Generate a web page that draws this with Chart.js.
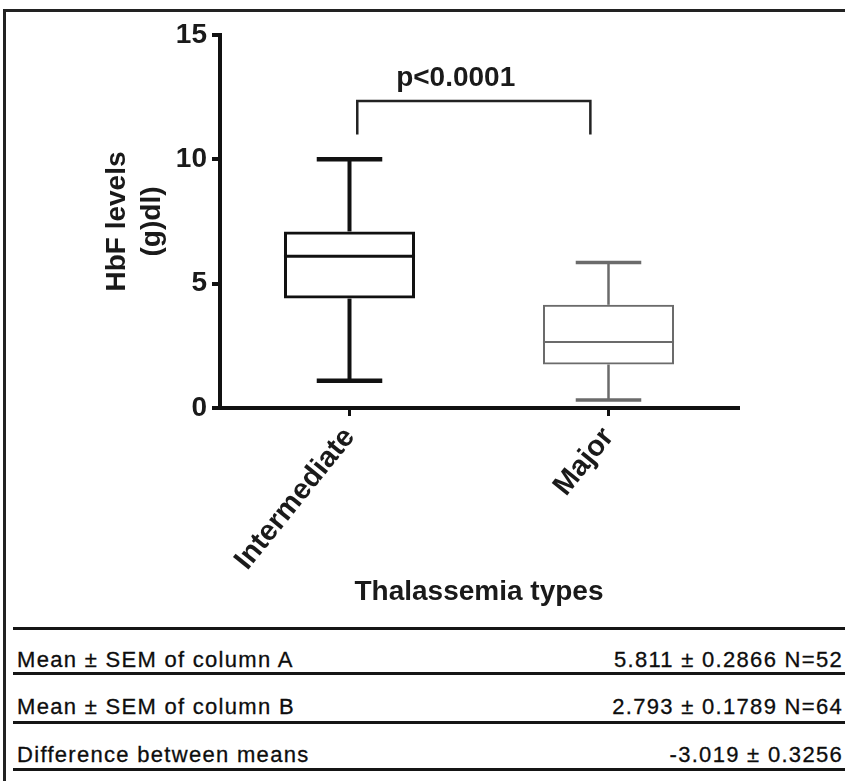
<!DOCTYPE html>
<html>
<head>
<meta charset="utf-8">
<script src="https://cdn.jsdelivr.net/npm/chart.js@4.4.1/dist/chart.umd.min.js"></script>
<style>
  html, body { margin: 0; padding: 0; background: #fff; overflow: hidden; }
  body { width: 845px; height: 781px; position: relative; }
  .frame { position: absolute; left: 3px; top: 9px; width: 842px; height: 772px;
           border-top: 3px solid #222; border-left: 3px solid #222; box-sizing: border-box; }
  #chart { position: absolute; left: 0; top: 0; }
  .rule { position: absolute; left: 13px; width: 832px; background: #151515; }
  .cell { position: absolute; font: 22px "Liberation Sans", Arial, sans-serif;
          line-height: 22px; letter-spacing: 1.3px; color: #0d0d0d; white-space: nowrap;
          -webkit-text-stroke: 0.3px #0d0d0d; }
</style>
</head>
<body>
<div class="frame"></div>
<canvas id="chart" width="840" height="620"></canvas>
<div id="stats"></div>
<script>
// Datos
const groups = ["Intermediate", "Major"];
const whiskerMin = [1.1, 0.32];
const q1 = [4.4, 1.75];
const median = [6.1, 2.65];
const q3 = [7.1, 4.15];
const whiskerMax = [10.0, 5.85];
const yTicks = [0, 5, 10, 15];

const pValueText = "p<0.0001";
const bracketLevels = [11.0, 12.35];
const bracketEnds = [0.03, 0.93];
const pTextAt = [0.41, 13.27];

const statLabels = ["Mean \u00b1 SEM of column A", "Mean \u00b1 SEM of column B", "Difference between means"];
const statValues = ["5.811 \u00b1 0.2866 N=52", "2.793 \u00b1 0.1789 N=64", "-3.019 \u00b1 0.3256"];

// Estilos
const FONT = "'Liberation Sans', Arial, sans-serif";
const INK = "#1a1a1a";
const boxStyles = [
  { color: "#111", box: 3, whisker: 4, cap: 4.5, median: 3 },
  { color: "#6b6b6b", box: 2, whisker: 2.5, cap: 3.5, median: 2 },
];

Chart.defaults.color = INK;
Chart.defaults.font.family = FONT;

// Bigotes, medianas y corchete
const boxExtras = {
  id: "boxExtras",
  afterDatasetsDraw(chart) {
    const { ctx, scales: { x, y } } = chart;
    const bars = chart.getDatasetMeta(0).data;
    const seg = (x1, y1, x2, y2) => {
      ctx.beginPath();
      ctx.moveTo(x1, y1);
      ctx.lineTo(x2, y2);
      ctx.stroke();
    };
    groups.forEach((g, i) => {
      const st = boxStyles[i];
      const cx = x.getPixelForValue(i);
      const half = bars[i].width / 2;
      ctx.save();
      ctx.strokeStyle = st.color;
      ctx.lineWidth = st.whisker;
      seg(cx, y.getPixelForValue(q3[i]), cx, y.getPixelForValue(whiskerMax[i]));
      seg(cx, y.getPixelForValue(q1[i]), cx, y.getPixelForValue(whiskerMin[i]));
      ctx.lineWidth = st.cap;
      seg(cx - half / 2, y.getPixelForValue(whiskerMax[i]), cx + half / 2, y.getPixelForValue(whiskerMax[i]));
      seg(cx - half / 2, y.getPixelForValue(whiskerMin[i]), cx + half / 2, y.getPixelForValue(whiskerMin[i]));
      ctx.lineWidth = st.median;
      seg(cx - half, y.getPixelForValue(median[i]), cx + half, y.getPixelForValue(median[i]));
      ctx.restore();
    });

    const xl = x.getPixelForValue(bracketEnds[0]);
    const xr = x.getPixelForValue(bracketEnds[1]);
    const yb = y.getPixelForValue(bracketLevels[0]);
    const yt = y.getPixelForValue(bracketLevels[1]);
    ctx.save();
    ctx.strokeStyle = "#222";
    ctx.lineWidth = 2.5;
    ctx.beginPath();
    ctx.moveTo(xl, yb);
    ctx.lineTo(xl, yt);
    ctx.lineTo(xr, yt);
    ctx.lineTo(xr, yb);
    ctx.stroke();
    ctx.fillStyle = INK;
    ctx.font = "bold 28px " + FONT;
    ctx.textAlign = "center";
    ctx.textBaseline = "middle";
    ctx.fillText(pValueText, x.getPixelForValue(pTextAt[0]), y.getPixelForValue(pTextAt[1]));
    ctx.restore();
  },
};

new Chart(document.getElementById("chart"), {
  type: "bar",
  data: {
    labels: groups,
    datasets: [{
      data: groups.map((g, i) => [q1[i], q3[i]]),
      backgroundColor: "rgba(255,255,255,0)",
      borderColor: boxStyles.map((s) => s.color),
      borderWidth: boxStyles.map((s) => s.box),
      borderSkipped: false,
      barPercentage: 0.506,
      categoryPercentage: 1,
    }],
  },
  options: {
    responsive: false,
    animation: false,
    layout: { padding: { left: 0, top: 35, right: 102, bottom: 0 } },
    plugins: { legend: { display: false }, tooltip: { enabled: false } },
    scales: {
      x: {
        offset: true,
        grid: { display: true, drawOnChartArea: false, offset: false, tickLength: 8, lineWidth: 3, color: "#111" },
        border: { display: true, width: 4, color: "#111" },
        ticks: { autoSkip: false, maxRotation: 51, minRotation: 51, padding: 5, font: { size: 29, weight: "bold" } },
        title: { display: true, text: "Thalassemia types", font: { size: 28, weight: "bold" }, padding: { top: 0, bottom: 11 } },
        afterFit: (scale) => { scale.height = 212; },
      },
      y: {
        min: 0,
        max: 15,
        afterBuildTicks: (scale) => { scale.ticks = yTicks.map((v) => ({ value: v })); },
        grid: { display: true, drawOnChartArea: false, tickLength: 8, lineWidth: 4, color: "#111" },
        border: { display: true, width: 4, color: "#111" },
        ticks: { padding: 5, font: { size: 28, weight: "bold" } },
        title: { display: true, text: ["HbF levels", "(g)dl)"], font: { size: 28, weight: "bold", lineHeight: 1.25 }, padding: { top: 100, bottom: 0 } },
        afterFit: (scale) => { scale.width = 220; },
      },
    },
  },
  plugins: [boxExtras],
});

// Tabla de estadisticas
const stats = document.getElementById("stats");
const ruleTops = [627, 672, 721, 768];
const ruleHeights = [3, 2.5, 2.5, 3];
const baselines = [668, 715, 763];
ruleTops.forEach((t, i) => {
  const r = document.createElement("div");
  r.className = "rule";
  r.style.top = t + "px";
  r.style.height = ruleHeights[i] + "px";
  stats.appendChild(r);
});
statLabels.forEach((label, i) => {
  const top = baselines[i] - 18.6;
  const l = document.createElement("div");
  l.className = "cell";
  l.style.left = "17px";
  l.style.top = top + "px";
  l.textContent = label;
  stats.appendChild(l);
  const v = document.createElement("div");
  v.className = "cell";
  v.style.right = "2px";
  v.style.top = top + "px";
  v.textContent = statValues[i];
  stats.appendChild(v);
});
</script>
</body>
</html>
